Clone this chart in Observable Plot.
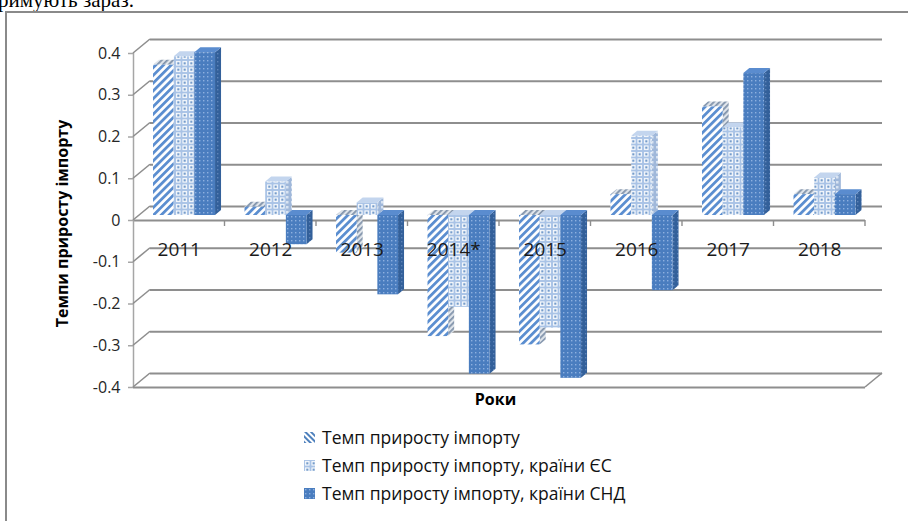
<!DOCTYPE html>
<html>
<head>
<meta charset="utf-8">
<script src="https://cdn.jsdelivr.net/npm/d3@7"></script>
<script src="https://cdn.jsdelivr.net/npm/@observablehq/plot@0.6"></script>
<style>
html,body{margin:0;padding:0;background:#fff;}
#page{position:relative;width:908px;height:521px;overflow:hidden;font-family:"Open Sans",sans-serif;}
#toptext{position:absolute;left:-2px;top:-10px;font-family:"Liberation Serif",serif;font-size:21px;line-height:1;color:#000;white-space:nowrap;}
#frame{position:absolute;left:5px;top:11px;width:1000px;height:600px;border-left:2px solid #8a8a8a;border-top:2px solid #8a8a8a;}
#chart{position:absolute;left:0;top:0;}
#legend{position:absolute;left:304px;top:423px;font-size:17.5px;color:#111;}
#legend .row{display:flex;align-items:center;height:28px;white-space:nowrap;}
#legend svg{margin-right:7px;flex:none;}
#defs{position:absolute;width:0;height:0;}
</style>
</head>
<body>
<div id="page">
  <svg id="defs" width="0" height="0">
    <defs>
      <pattern id="p1" width="5.5" height="5.5" patternUnits="userSpaceOnUse" patternTransform="rotate(45)">
        <rect width="5.5" height="5.5" fill="#ffffff"/>
        <rect width="2.8" height="5.5" fill="#5b8ed0"/>
      </pattern>
      <pattern id="p1L" width="4" height="4" patternUnits="userSpaceOnUse" patternTransform="rotate(-45)">
        <rect width="4" height="4" fill="#ffffff"/>
        <rect width="2" height="4" fill="#4f81bd"/>
      </pattern>
      <pattern id="p1s" width="4" height="4" patternUnits="userSpaceOnUse" patternTransform="rotate(45)">
        <rect width="4" height="4" fill="#dfe4ea"/>
        <rect width="1.8" height="4" fill="#8193ab"/>
      </pattern>
      <pattern id="p2" width="6.5" height="6.5" patternUnits="userSpaceOnUse">
        <rect width="6.5" height="6.5" fill="#a9c3e6"/>
        <rect x="1" y="1" width="4.5" height="4.5" fill="#ffffff"/>
        <rect x="2.25" y="2.25" width="2" height="2" fill="#4f81bd"/>
      </pattern>
      <pattern id="p2s" width="5" height="5" patternUnits="userSpaceOnUse">
        <rect width="5" height="5" fill="#a0b8da"/>
        <rect x="1" y="1" width="2.5" height="2.5" fill="#d8e3f1"/>
      </pattern>
      <pattern id="p3" width="4" height="4" patternUnits="userSpaceOnUse">
        <rect width="4" height="4" fill="#4a7dbf"/>
        <rect x="1" y="1" width="1.4" height="1.4" fill="#8db0df"/>
      </pattern>
      <pattern id="p3s" width="4" height="4" patternUnits="userSpaceOnUse">
        <rect width="4" height="4" fill="#33609a"/>
        <rect x="1" y="1" width="1.4" height="1.4" fill="#5d83b8"/>
      </pattern>
    </defs>
  </svg>
  <div id="toptext">римують зараз.</div>
  <div id="frame"></div>
  <div id="chart"></div>
  <div id="legend"></div>
</div>
<script>
// ---- data ----
const years = ["2011", "2012", "2013", "2014*", "2015", "2016", "2017", "2018"];
const seriesNames = [
  "Темп приросту імпорту",
  "Темп приросту імпорту, країни ЄС",
  "Темп приросту імпорту, країни СНД"
];
const importTotal = [0.36, 0.02, -0.09, -0.29, -0.31, 0.05, 0.26, 0.05];
const importEU    = [0.38, 0.08, 0.03, -0.22, -0.27, 0.19, 0.21, 0.09];
const importCIS   = [0.39, -0.07, -0.19, -0.38, -0.39, -0.18, 0.34, 0.05];
const yTicks = [-0.4, -0.3, -0.2, -0.1, 0, 0.1, 0.2, 0.3, 0.4];
const yTitle = "Темпи приросту імпорту";
const xTitle = "Роки";

// ---- styles ----
const frontFill = ["url(#p1)", "url(#p2)", "url(#p3)"];
const sideFill  = ["url(#p1s)", "url(#p2s)", "url(#p3s)"];
const topFill   = ["url(#p1s)", "#c3d5ee", "#5a8ccf"];
const legendFill = ["url(#p1L)", "url(#p2)", "url(#p3)"];
const GRID = "#8e8e8e";
const WALL_DX = 17, WALL_DY = -14;   // back wall depth offset (px)
const BAR_DX = 6, BAR_DY = -5;       // bar front-face offset (px)
const DEPTH_DX = 6, DEPTH_DY = -5;   // bar depth (px)
const BAR_START = 0.153, BAR_W = 0.226; // bar layout within a category band

const allSeries = [importTotal, importEU, importCIS];
const rows = [];
allSeries.forEach((vals, k) => vals.forEach((v, i) => rows.push({
  year: years[i], i, k, v, x1: i + BAR_START + k * BAR_W, x2: i + BAR_START + (k + 1) * BAR_W
})));
const N = years.length;
const fmt = d => d === 0 ? "0" : d.toFixed(1);

function decor(index, scales) {
  const sx = scales.x, sy = scales.y;
  const g = d3.create("svg:g").attr("stroke", GRID).attr("fill", "none");
  for (const t of yTicks) {
    g.append("line").attr("x1", sx(0)).attr("y1", sy(t))
      .attr("x2", sx(0) + WALL_DX).attr("y2", sy(t) + WALL_DY).attr("stroke-width", 1.6);
  }
  g.append("line").attr("x1", sx(N)).attr("y1", sy(-0.4))
    .attr("x2", sx(N) + WALL_DX).attr("y2", sy(-0.4) + WALL_DY).attr("stroke-width", 1.6);
  for (let i = 1; i <= N; i++) {
    g.append("line").attr("x1", sx(i)).attr("x2", sx(i))
      .attr("y1", sy(0)).attr("y2", sy(0) + 6).attr("stroke-width", 1.4);
  }
  return g.node();
}

function faces(index, scales) {
  const sx = scales.x, sy = scales.y;
  const g = d3.create("svg:g");
  for (const r of rows) {
    const x1 = sx(r.x1) + BAR_DX, x2 = sx(r.x2) + BAR_DX;
    const y0 = sy(0) + BAR_DY, yv = sy(r.v) + BAR_DY;
    const top = Math.min(y0, yv), bot = Math.max(y0, yv);
    g.append("polygon")
      .attr("points", [[x2, top], [x2 + DEPTH_DX, top + DEPTH_DY], [x2 + DEPTH_DX, bot + DEPTH_DY], [x2, bot]].map(p => p.join(",")).join(" "))
      .attr("fill", sideFill[r.k]);
    g.append("polygon")
      .attr("points", [[x1, top], [x1 + DEPTH_DX, top + DEPTH_DY], [x2 + DEPTH_DX, top + DEPTH_DY], [x2, top]].map(p => p.join(",")).join(" "))
      .attr("fill", topFill[r.k]);
  }
  return g.node();
}

const marks = [
  Plot.ruleY(yTicks, {x1: 0, x2: N, dx: WALL_DX, dy: WALL_DY, stroke: GRID, strokeWidth: 2}),
  Plot.ruleY([0, -0.4], {x1: 0, x2: N, stroke: GRID, strokeWidth: 2}),
  Plot.ruleX([0], {y1: -0.4, y2: 0.4, stroke: "#a6a6a6", strokeWidth: 1.5}),
  Plot.ruleY(yTicks, {x1: 0, x2: 0, insetLeft: -5, stroke: "#a6a6a6", strokeWidth: 1.5}),
  decor,
  faces
];
[0, 1, 2].forEach(k => {
  marks.push(Plot.rect(rows.filter(r => r.k === k), {
    x1: "x1", x2: "x2", y1: 0, y2: "v", dx: BAR_DX, dy: BAR_DY, fill: frontFill[k]
  }));
});
marks.push(
  Plot.text(yTicks, {x: 0, y: d => d, text: fmt, textAnchor: "end", dx: -13, fontSize: 16, fill: "#262626"}),
  Plot.text(years, {x: (d, i) => i + 0.5, y: 0, text: d => d, dy: 29, fontSize: 19, fill: "#1a1a1a"}),
  Plot.text([xTitle], {frameAnchor: "bottom", dy: 17, dx: -4, text: d => d, fontSize: 16, fontWeight: "bold", fill: "#000"}),
  Plot.text([yTitle], {frameAnchor: "left", textAnchor: "middle", dx: -71, dy: 3, rotate: -90, text: d => d, fontSize: 16, fontWeight: "bold", fill: "#000"})
);

const chart = Plot.plot({
  width: 908,
  height: 415,
  marginLeft: 133,
  marginRight: 43,
  marginTop: 53,
  marginBottom: 28,
  x: {domain: [0, N], axis: null},
  y: {domain: [-0.4, 0.4], axis: null},
  style: {fontFamily: "'Open Sans', sans-serif", background: "transparent", overflow: "visible"},
  marks
});
document.getElementById("chart").appendChild(chart);

const legend = d3.select("#legend");
seriesNames.forEach((name, k) => {
  const row = legend.append("div").attr("class", "row");
  row.append("svg").attr("width", 11).attr("height", 11)
    .append("rect").attr("width", 11).attr("height", 11).attr("fill", legendFill[k]);
  row.append("span").text(name);
});
</script>
</body>
</html>
